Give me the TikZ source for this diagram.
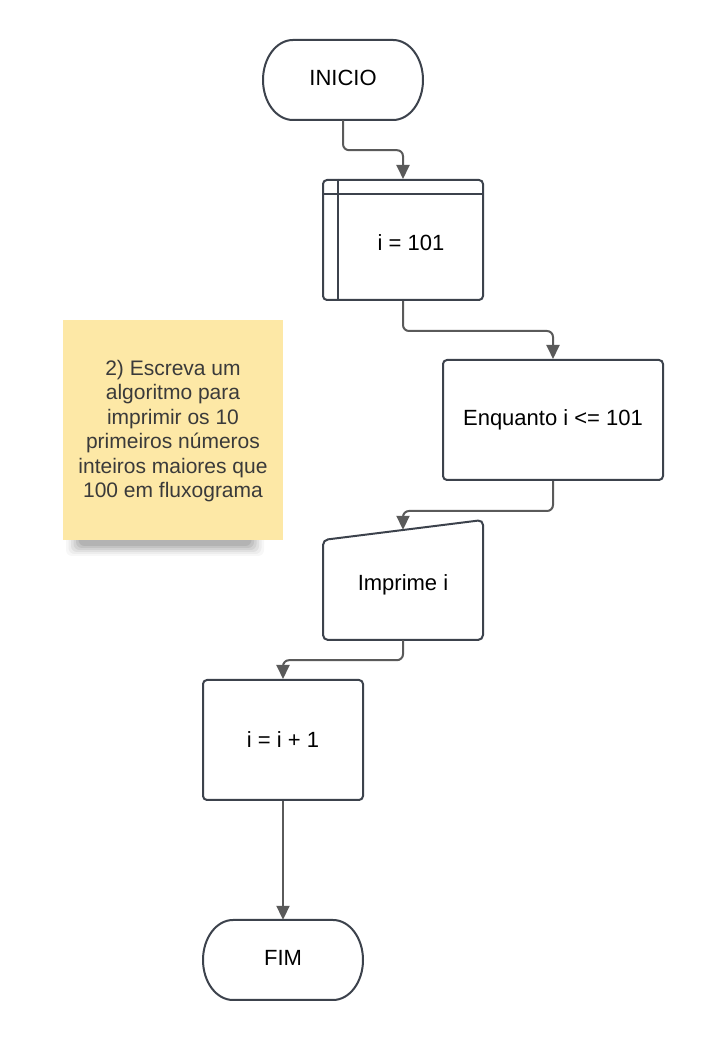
\documentclass[tikz,border=0pt]{standalone}
\usepackage{fontspec}
\setmainfont{Liberation Sans}
\usetikzlibrary{arrows.meta,calc}
\definecolor{shapeline}{HTML}{3C424C}
\definecolor{arrowline}{HTML}{5A5A5A}
\definecolor{notefill}{HTML}{FDE8A6}
\definecolor{notetext}{HTML}{3A3A3A}
\tikzset{
  lbl/.style={inner sep=0pt, font=\fontsize{22}{26}\selectfont, text=black},
  procbox/.style={lbl, draw=shapeline, line width=2pt, rounded corners=4pt, fill=white},
  conn/.style={draw=arrowline, line width=2pt, rounded corners=6pt, -{Triangle[length=14pt,width=13pt]}},
  outline/.style={draw=shapeline, line width=2pt, fill=white},
}
\begin{document}
\begin{tikzpicture}[x=1pt,y=1pt]
\useasboundingbox (0,0) rectangle (703,1040);
\fill[white] (0,0) rectangle (703,1040);

% sticky note shadow
\foreach \i/\o in {0/0.03,1/0.04,2/0.05,3/0.06,4/0.07,5/0.08}{
  \fill[black,opacity=\o,rounded corners=6pt] (66+\i*2.5,484+\i*2) rectangle (264-\i*2.5,522);
}
\node[fill=notefill, minimum width=220pt, minimum height=220pt, inner sep=0pt] (note) at (173,610) {};
\node[align=center, text=notetext, font=\fontsize{21}{24.4}\selectfont] (notetxt) at (173,609)
 {2) Escreva um\\algoritmo para\\imprimir os 10\\primeiros números\\inteiros maiores que\\100 em fluxograma};

% INICIO terminal
\node[lbl, minimum width=160pt, minimum height=80pt] (inicio) at (343,960) {};
\draw[outline] (293,1000) -- (393,1000) arc[start angle=90,end angle=-90,x radius=30,y radius=40]
  -- (293,920) arc[start angle=270,end angle=90,x radius=30,y radius=40] -- cycle;
\node[lbl] at ($(inicio)+(0,2)$) {INICIO};

% i = 101 (internal storage)
\node[procbox, minimum width=160pt, minimum height=120pt] (init) at (403,800) {};
\draw[shapeline, line width=2pt] ($(init.north west)+(16,0)$) -- ($(init.south west)+(16,0)$);
\draw[shapeline, line width=2pt] ($(init.north west)+(0,-15)$) -- ($(init.north east)+(0,-15)$);
\node[lbl] at ($(init)+(8,-3)$) {i = 101};

% Enquanto
\node[procbox, minimum width=220pt, minimum height=120pt] (loop) at (553,620) {Enquanto i <= 101};

% Imprime i (manual input)
\node[lbl, minimum width=160pt, minimum height=110pt] (print) at (403,455) {};
\draw[outline, rounded corners=5pt] (323,400) -- (323,500) -- (483,520) -- (483,400) -- cycle;
\node[lbl] at (print) {Imprime i};

% i = i + 1
\node[procbox, minimum width=160pt, minimum height=120pt] (incr) at (283,300) {i = i + 1};

% FIM terminal
\node[lbl, minimum width=160pt, minimum height=80pt] (fim) at (283,80) {};
\draw[outline] (233,120) -- (333,120) arc[start angle=90,end angle=-90,x radius=30,y radius=40]
  -- (233,40) arc[start angle=270,end angle=90,x radius=30,y radius=40] -- cycle;
\node[lbl] at ($(fim)+(0,2)$) {FIM};

% connectors
\draw[conn] (inicio.south) -- ++(0,-30) -| (init.north);
\draw[conn] (init.south) -- ++(0,-30) -| (loop.north);
\draw[conn] (loop.south) -- ++(0,-30) -| (print.north);
\draw[conn] (print.south) -- ++(0,-20) -| (incr.north);
\draw[conn] (incr.south) -- (fim.north);
\end{tikzpicture}
\end{document}
